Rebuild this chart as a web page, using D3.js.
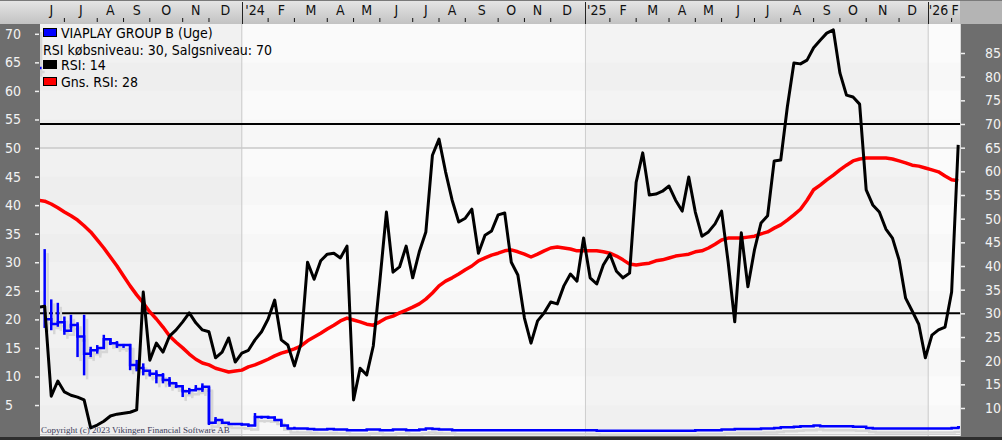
<!DOCTYPE html>
<html><head><meta charset="utf-8">
<script src="https://cdn.jsdelivr.net/npm/d3@7"></script>
<style>
body{margin:0;background:#fff;overflow:hidden}
svg{display:block}
.nar{font-family:"Liberation Sans Narrow","Arial Narrow","DejaVu Sans Condensed","Liberation Sans",sans-serif;}
</style>
</head><body>
<svg id="c" width="1002" height="440"></svg>
<script>
// ---------------- DATA ----------------
const firstWeek = new Date(2023, 4, 29);   // week of first (clipped) point
const lastWeek = new Date(2026, 1, 2);

const rsiValues = [31.3,31.5,12.5,15.7,13.4,12.7,12.3,11.7,5.8,6.4,
 7.2,8.3,8.7,8.9,9.1,9.6,34.5,20.1,23.7,21.8,
 25.2,26.5,28.2,30.1,28.0,26.5,26.1,20.6,21.8,24.8,
 19.7,21.6,22.2,24.4,26.1,28.8,32.8,24.4,23.3,18.9,
 23.6,40.8,37.2,41.1,42.5,42.7,41.7,44.2,11.7,18.4,
 17.0,23.1,36.8,51.4,38.7,39.8,44.2,37.5,43.0,47.2,
 63.4,66.8,59.9,53.9,49.3,50.1,52.0,42.7,46.5,47.4,
 50.8,51.2,40.8,38.1,29.0,23.7,28.4,30.1,32.4,32.0,
 35.8,38.3,36.8,45.9,37.5,36.2,40.2,42.5,38.9,37.5,
 38.5,57.7,63.9,55.0,55.2,55.8,56.9,53.9,51.6,58.8,
 51.4,46.3,47.2,48.9,51.6,40.8,28.2,47.0,35.6,43.4,
 49.1,50.6,62.2,62.4,73.6,82.9,82.7,83.5,86.1,87.7,
 89.2,89.9,80.8,76.1,75.7,74.2,56.1,52.9,51.4,47.8,
 45.9,41.3,33.2,30.5,27.7,20.6,25.4,26.5,27.1,34.5,
 65.6];

const rsiAvgValues = [53.9,53.7,53.1,52.3,51.4,50.6,49.7,48.5,47.2,45.5,
 43.8,41.9,40.0,37.9,35.8,33.9,32.2,30.3,28.8,27.1,
 25.2,23.9,22.7,21.4,20.3,19.5,19.1,18.4,18.0,17.6,
 17.8,18.0,18.7,19.1,19.7,20.3,21.0,21.6,22.0,22.5,
 23.1,24.2,25.0,25.8,26.7,27.5,28.4,29.0,28.6,28.2,
 27.7,27.5,28.2,29.0,29.4,30.1,30.7,31.3,32.0,33.0,
 34.3,35.8,36.8,37.5,38.3,39.2,40.0,41.1,41.7,42.3,
 42.7,43.2,43.4,43.0,42.5,41.9,42.5,43.2,43.8,44.0,
 43.8,43.6,43.2,43.2,43.2,43.2,43.0,42.7,42.1,41.3,
 40.4,40.2,40.4,40.6,41.1,41.3,41.7,42.1,42.3,42.5,
 43.0,43.2,43.8,44.6,45.5,45.9,45.9,45.9,46.1,46.3,
 46.8,47.2,48.0,48.7,49.7,50.8,52.0,53.9,56.1,57.1,
 58.2,59.2,60.3,61.3,62.2,62.6,62.8,62.8,62.8,62.8,
 62.6,62.2,61.8,61.3,61.1,60.7,60.3,59.9,59.0,58.2,
 58.0];

const priceClose = [64.0,20.0,19.2,19.5,18.0,19.0,17.0,14.0,14.6,15.0,
 16.5,15.8,15.5,15.5,12.0,11.5,11.0,10.5,10.2,9.4,
 8.8,8.3,7.4,7.6,7.8,8.2,1.9,2.4,1.9,1.7,
 1.7,1.6,1.4,2.9,2.9,2.8,2.4,1.4,0.9,0.9,
 0.9,0.8,0.7,0.7,0.8,0.7,0.7,0.6,0.6,0.6,
 0.7,0.7,0.6,0.6,0.7,0.7,0.6,0.6,0.7,0.9,
 0.8,0.7,0.7,0.6,0.6,0.6,0.6,0.6,0.6,0.6,
 0.6,0.6,0.6,0.6,0.6,0.6,0.6,0.6,0.6,0.6,
 0.6,0.6,0.6,0.6,0.6,0.5,0.5,0.5,0.5,0.5,
 0.5,0.5,0.5,0.5,0.5,0.5,0.5,0.5,0.5,0.5,
 0.6,0.6,0.6,0.6,0.7,0.7,0.8,0.8,0.8,0.8,
 0.9,0.9,1.0,1.1,1.1,1.2,1.3,1.3,1.4,1.3,
 1.3,1.3,1.3,1.3,1.2,1.2,1.0,0.9,0.9,0.9,
 0.9,0.9,0.9,0.9,0.9,0.9,0.9,0.9,0.9,1.0,
 1.1];
const priceHigh = [71.0,32.3,23.5,22.9,20.5,20.8,19.5,20.8,15.2,15.5,17.3,16.7,16.2,15.7,15.7,12.9,12.3,11.1,11.1,10.6,9.9,8.8,8.2,8.0,8.5,8.8,8.2,2.9,2.4,1.9,1.8,1.7,1.6,3.6,3.1,3.1,3.0,2.4,1.4,1.2];
const priceLow  = [63.2,18.5,18.1,18.7,17.3,18.5,13.4,10.2,13.4,14.0,15.0,15.5,15.0,15.0,11.1,10.9,10.2,10.0,8.8,8.8,8.2,8.0,6.4,6.9,7.6,7.3,1.5,2.0,1.7,1.6,1.5,1.4,1.2,1.3,2.6,2.6,2.2,1.2,0.8,0.8];

const leftTicks = [5,10,15,20,25,30,35,40,45,50,55,60,65,70];
const rightTicks = [10,15,20,25,30,35,40,45,50,55,60,65,70,75,80,85];
const monthLetters = ["J","F","M","A","M","J","J","A","S","O","N","D"];
const rsiLevels = [30, 70];
const legendItems = [
  {label:"VIAPLAY GROUP B (Uge)", color:"#0000ff"},
  {label:"RSI købsniveau: 30, Salgsniveau: 70", color:null},
  {label:"RSI: 14", color:"#000000"},
  {label:"Gns. RSI: 28", color:"#ff0000"}
];
const copyright = "Copyright (c) 2023 Vikingen Financial Software AB";

// ---------------- LAYOUT ----------------
const W = 1002, H = 440;
const P = {l:40, r:960, t:24, b:436};
const svg = d3.select("#c");
const weeks = rsiValues.map((_, i) => d3.timeWeek.offset(firstWeek, i));

const x = d3.scaleTime().domain([firstWeek, lastWeek]).range([38.1, 958.2]);
const yL = d3.scaleLinear().domain([0, 70]).range([433.6, 33.8]);
const yR = d3.scaleLinear().domain([10, 85]).range([408, 53]);

const defs = svg.append("defs");
const g1 = defs.append("linearGradient").attr("id","topg").attr("x1",0).attr("y1",0).attr("x2",0).attr("y2",1);
g1.append("stop").attr("offset","0%").attr("stop-color","#e6e6e6");
g1.append("stop").attr("offset","100%").attr("stop-color","#c2c2c2");
defs.append("clipPath").attr("id","clip").append("rect")
  .attr("x",P.l).attr("y",P.t).attr("width",P.r-P.l).attr("height",P.b-P.t);

// panels
svg.append("rect").attr("width",W).attr("height",H).attr("fill","#6e6e6e");
svg.append("rect").attr("x",0).attr("y",0).attr("width",W).attr("height",P.t).attr("fill","url(#topg)");
svg.append("rect").attr("x",P.r).attr("y",0).attr("width",W-P.r).attr("height",P.t).attr("fill","#b4b4b4");
svg.append("line").attr("x1",0).attr("x2",W).attr("y1",0.5).attr("y2",0.5).attr("stroke","#7a7a7a");

// plot background: year columns
const yearStarts = [new Date(2024,0,1), new Date(2025,0,1), new Date(2026,0,1)];
const colEdges = [P.l, ...yearStarts.map(d => x(d)), P.r];
const colFill = ["#f1f1f1","#fafafa","#f3f3f3","#fbfbfb"];
const plot = svg.append("g").attr("clip-path","url(#clip)");
for (let i = 0; i < colEdges.length - 1; i++) {
  plot.append("rect").attr("x",colEdges[i]).attr("y",P.t)
    .attr("width",colEdges[i+1]-colEdges[i]).attr("height",P.b-P.t).attr("fill",colFill[i]);
}
leftTicks.forEach((v, i) => {
  if (i % 2 === 0) plot.append("rect").attr("x",P.l).attr("width",P.r-P.l)
    .attr("y",yL(v)).attr("height",yL(v-5)-yL(v)).attr("fill","rgba(0,0,0,0.012)");
});
yearStarts.forEach(d => {
  plot.append("line").attr("x1",x(d)).attr("x2",x(d)).attr("y1",P.t).attr("y2",P.b)
    .attr("stroke","#cfcfcf").attr("stroke-width",1);
});
plot.append("line").attr("x1",P.l).attr("x2",P.r).attr("y1",yL(50)).attr("y2",yL(50))
  .attr("stroke","#c8c8c8").attr("stroke-width",1.6);
plot.append("line").attr("x1",P.l).attr("x2",P.r).attr("y1",P.b-1.5).attr("y2",P.b-1.5)
  .attr("stroke","#cfcfcf").attr("stroke-width",1);

rsiLevels.forEach(v => {
  plot.append("line").attr("x1",P.l).attr("x2",P.r).attr("y1",yR(v)).attr("y2",yR(v))
    .attr("stroke","#000").attr("stroke-width",2);
});

function drawPrice(gg, color) {
  for (let i = 0; i < priceHigh.length; i++) {
    gg.append("line").attr("x1",x(weeks[i])).attr("x2",x(weeks[i]))
      .attr("y1",yL(priceLow[i])).attr("y2",yL(priceHigh[i]))
      .attr("stroke",color).attr("stroke-width",2.5);
  }
  gg.append("line").attr("x1",x(weeks[0])).attr("x2",x(weeks[0])+3.5)
    .attr("y1",yL(priceClose[0])).attr("y2",yL(priceClose[0])).attr("stroke",color).attr("stroke-width",2.5);
  const pts = priceClose.map((v,i)=>[weeks[i],v]).slice(1);
  pts.push([d3.timeDay.offset(lastWeek, 3), priceClose[priceClose.length-1]]);
  gg.append("path").attr("d", d3.line().x(d=>x(d[0])).y(d=>yL(d[1])).curve(d3.curveStepAfter)(pts))
    .attr("fill","none").attr("stroke",color).attr("stroke-width",2.5);
}
drawPrice(plot.append("g").attr("transform","translate(3,4)"), "#d6d6d6");
drawPrice(plot.append("g"), "#0000ff");

const lineR = d3.line().x((d,i)=>x(weeks[i])).y(d=>yR(d));
plot.append("path").attr("d", lineR(rsiAvgValues)).attr("fill","none")
  .attr("stroke","#ff0000").attr("stroke-width",3.5).attr("stroke-linejoin","round");
plot.append("path").attr("d", lineR(rsiValues)).attr("fill","none")
  .attr("stroke","#000").attr("stroke-width",3).attr("stroke-linejoin","round");

svg.append("line").attr("x1",P.r+0.5).attr("x2",P.r+0.5).attr("y1",P.t).attr("y2",P.b).attr("stroke","#d8d8d8");

// ---------------- AXES ----------------
const axL = d3.axisLeft(yL).tickValues(leftTicks).tickSize(4).tickFormat(d3.format("d"));
const gL = svg.append("g").attr("transform","translate(39,0)").call(axL);
gL.select(".domain").remove();
gL.selectAll(".tick line").attr("stroke","#f0f0f0").attr("stroke-width",1.5);
gL.selectAll(".tick text").attr("class","nar").attr("x",-34).attr("text-anchor","start")
  .attr("fill","#f2f2f2").style("font-size","14px");

const axR = d3.axisRight(yR).tickValues(rightTicks).tickSize(4).tickFormat(d3.format("d"));
const gR = svg.append("g").attr("transform","translate(961,0)").call(axR);
gR.select(".domain").remove();
gR.selectAll(".tick line").attr("stroke","#f0f0f0").attr("stroke-width",1.5);
gR.selectAll(".tick text").attr("class","nar").attr("x",24).attr("text-anchor","start")
  .attr("fill","#f2f2f2").style("font-size","14px");

const months = d3.timeMonth.range(new Date(2023,5,1), new Date(2026,2,1));
const tickX = m => x(d3.timeMonday.floor(m));
const topG = svg.append("g");
months.forEach((m, i) => {
  const tx = tickX(m);
  const nx = i < months.length-1 ? tickX(months[i+1]) : tx + 28.6;
  const isJan = m.getMonth() === 0;
  if (isJan) {
    const yx = Math.round(x(m)) + 0.5;
    topG.append("line").attr("x1",yx).attr("x2",yx).attr("y1",2).attr("y2",P.t).attr("stroke","#222").attr("stroke-width",1);
  } else if (tx > P.l) {
    topG.append("line").attr("x1",tx).attr("x2",tx).attr("y1",18).attr("y2",22).attr("stroke","#111").attr("stroke-width",1);
  }
  const label = isJan ? "'" + String(m.getFullYear()).slice(2) : monthLetters[m.getMonth()];
  const lx = Math.min((tx + nx) / 2, 955);
  topG.append("text").attr("class","nar").attr("x",lx).attr("y",15).attr("text-anchor","middle")
    .attr("fill","#111").style("font-size","14px").text(label);
});

// ---------------- LEGEND ----------------
const lg = svg.append("g");
const rowY = [33, 50, 65, 82];
legendItems.forEach((it, i) => {
  let tx = 43;
  if (it.color) {
    lg.append("rect").attr("x",43.5).attr("y",rowY[i]-4.5).attr("width",13).attr("height",8)
      .attr("fill",it.color).attr("stroke","#000").attr("stroke-width",1);
    tx = 61;
  }
  lg.append("text").attr("class","nar").attr("x",tx).attr("y",rowY[i]+5)
    .attr("fill","#000").style("font-size","14px").text(it.label);
});

svg.append("text").attr("x",41).attr("y",433).attr("fill","#3c3c5a")
  .style("font-family","'Liberation Serif',serif").style("font-size","9px").text(copyright);

svg.append("rect").attr("x",0).attr("y",P.b+1).attr("width",W).attr("height",H-P.b-1).attr("fill","#2e2e2e");
</script>
</body></html>
